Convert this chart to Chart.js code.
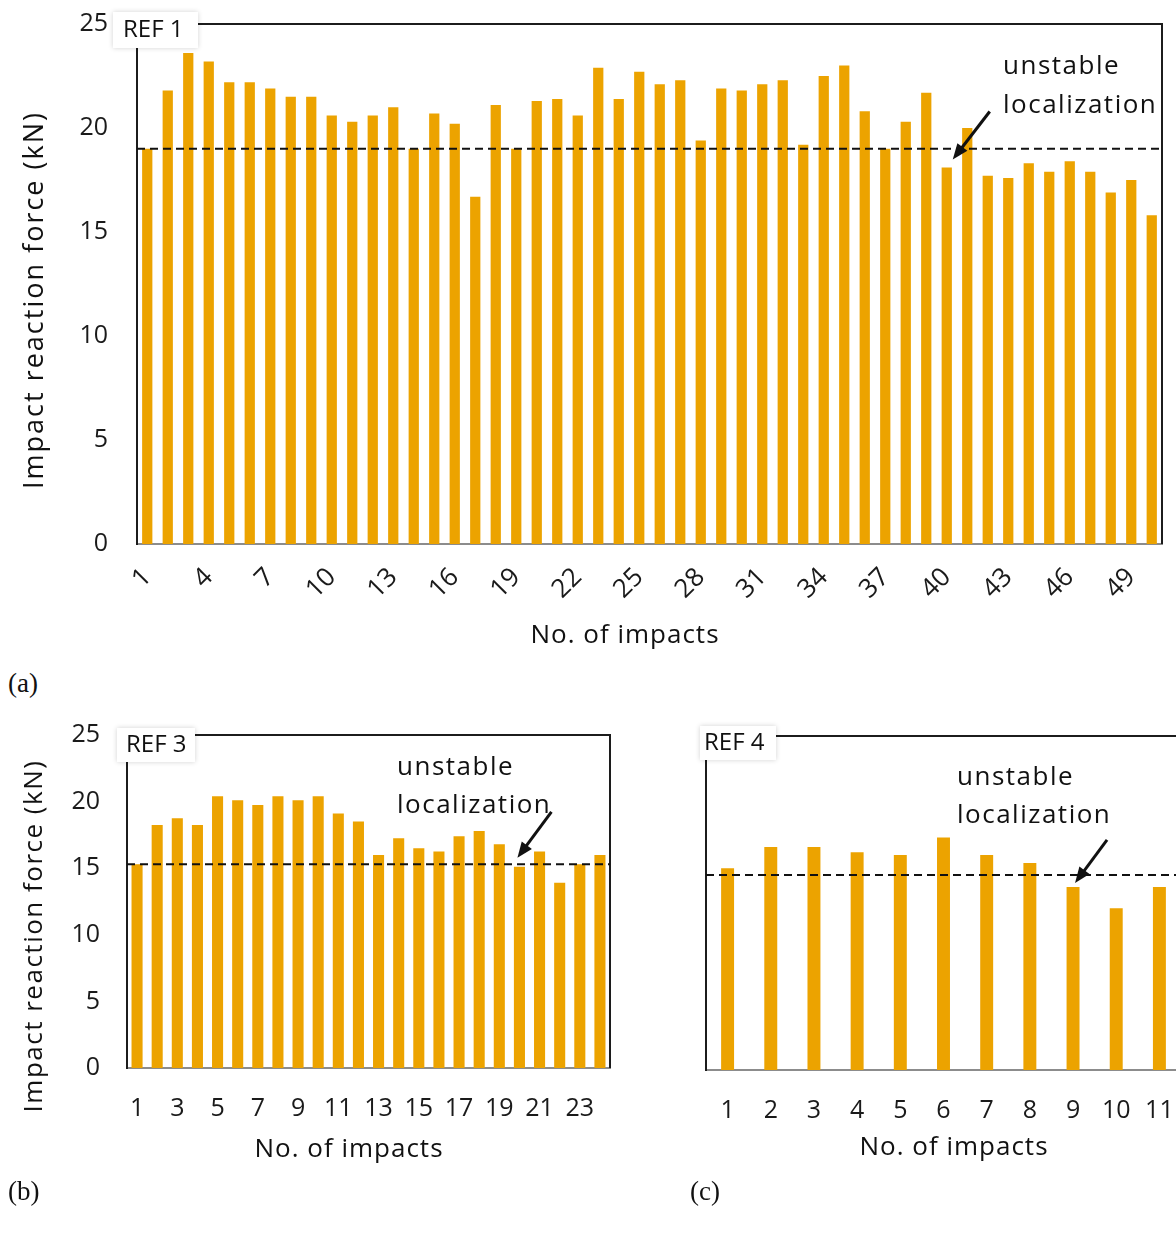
<!DOCTYPE html>
<html>
<head>
<meta charset="utf-8">
<script src="https://cdn.jsdelivr.net/npm/chart.js@4.4.1/dist/chart.umd.min.js"></script>
<style>
  html, body { margin: 0; padding: 0; background: #fff; overflow: hidden; }
  body { width: 1176px; height: 1236px; position: relative; }
  canvas { position: absolute; }
  .panel { position: absolute; font-family: 'Liberation Serif', serif; font-size: 27px; color: #111; }
</style>
</head>
<body>
<canvas id="chart-ref1" width="1176" height="660" style="left:0px;top:0px"></canvas>
<canvas id="chart-ref3" width="640" height="480" style="left:0px;top:700px"></canvas>
<canvas id="chart-ref4" width="600" height="480" style="left:600px;top:700px"></canvas>
<div class="panel" style="left:8px;top:668px">(a)</div>
<div class="panel" style="left:8px;top:1176px">(b)</div>
<div class="panel" style="left:690px;top:1176px">(c)</div>
<script>
const FONT = "'Open Sans', sans-serif";
const BAR_COLOR = '#ECA300';

// impact reaction force per impact (kN)
const ref1Force = [19.0, 21.8, 23.6, 23.2, 22.2, 22.2, 21.9, 21.5, 21.5, 20.6,
  20.3, 20.6, 21.0, 19.0, 20.7, 20.2, 16.7, 21.1, 19.0, 21.3,
  21.4, 20.6, 22.9, 21.4, 22.7, 22.1, 22.3, 19.4, 21.9, 21.8,
  22.1, 22.3, 19.2, 22.5, 23.0, 20.8, 19.0, 20.3, 21.7, 18.1,
  20.0, 17.7, 17.6, 18.3, 17.9, 18.4, 17.9, 16.9, 17.5, 15.8];
const ref3Force = [15.3, 18.25, 18.75, 18.25, 20.4, 20.1, 19.75, 20.4, 20.1, 20.4,
  19.1, 18.5, 16.0, 17.25, 16.5, 16.25, 17.4, 17.8, 16.8, 15.1,
  16.25, 13.9, 15.3, 16.0];
const ref4Force = [15.1, 16.7, 16.7, 16.3, 16.1, 17.4, 16.1, 15.5, 13.7, 12.1, 13.7];

// dashed reference levels
const ref1Limit = 19.0;
const ref3Limit = 15.3;
const ref4Limit = 14.6;

// impact where localization becomes unstable (1-based)
const ref1Unstable = 40;
const ref3Unstable = 20;
const ref4Unstable = 9;

const impactLabels = (n) => Array.from({ length: n }, (_, i) => String(i + 1));

const panelDecor = {
  id: 'panelDecor',
  afterDraw(chart, args, o) {
    const { ctx, chartArea: { left, top, right, bottom }, scales: { x, y } } = chart;
    ctx.save();

    // frame on top and right
    ctx.strokeStyle = '#1c1c1c';
    ctx.lineWidth = 2;
    ctx.beginPath();
    ctx.moveTo(left, top);
    ctx.lineTo(right, top);
    ctx.lineTo(right, bottom);
    ctx.stroke();

    // dashed level
    const ly = y.getPixelForValue(o.limit);
    ctx.setLineDash([8, 5]);
    ctx.strokeStyle = '#111';
    ctx.beginPath();
    ctx.moveTo(left, ly);
    ctx.lineTo(right, ly);
    ctx.stroke();
    ctx.setLineDash([]);

    // REF label box
    const b = o.refBox;
    ctx.shadowColor = 'rgba(0,0,0,0.18)';
    ctx.shadowBlur = 5;
    ctx.fillStyle = '#fff';
    ctx.fillRect(left + b.x, top + b.y, b.w, b.h);
    ctx.shadowColor = 'transparent';
    ctx.shadowBlur = 0;
    ctx.fillStyle = '#111';
    ctx.font = `24px ${FONT}`;
    ctx.textBaseline = 'middle';
    ctx.textAlign = 'left';
    ctx.fillText(o.refText, left + b.x + b.pad, top + b.y + b.h / 2);

    // note
    ctx.font = `26px ${FONT}`;
    ctx.letterSpacing = '1.5px';
    o.note.forEach((line, i) => {
      ctx.fillText(line, left + o.notePos.x, top + o.notePos.y + i * o.noteGap);
    });

    // arrow to the unstable impact
    const idx = o.arrowBar - 1;
    const tx = x.getPixelForValue(idx) + o.tip.dx;
    const ty = y.getPixelForValue(chart.data.datasets[0].data[idx]) + o.tip.dy;
    const sx = tx + o.tail.dx;
    const sy = ty + o.tail.dy;
    const ang = Math.atan2(ty - sy, tx - sx);
    const head = 17;
    ctx.strokeStyle = '#111';
    ctx.lineWidth = 3;
    ctx.beginPath();
    ctx.moveTo(sx, sy);
    ctx.lineTo(tx - head * 0.8 * Math.cos(ang), ty - head * 0.8 * Math.sin(ang));
    ctx.stroke();
    ctx.beginPath();
    ctx.moveTo(tx, ty);
    ctx.lineTo(tx - head * Math.cos(ang - 0.38), ty - head * Math.sin(ang - 0.38));
    ctx.lineTo(tx - head * Math.cos(ang + 0.38), ty - head * Math.sin(ang + 0.38));
    ctx.closePath();
    ctx.fill();

    // axis titles
    ctx.textAlign = 'center';
    const xt = o.xTitle;
    ctx.font = `${xt.size}px ${FONT}`;
    ctx.letterSpacing = `${xt.spacing}px`;
    ctx.fillText('No. of impacts', xt.x, xt.y);
    const yt = o.yTitle;
    if (yt) {
      ctx.font = `${yt.size}px ${FONT}`;
      ctx.letterSpacing = `${yt.spacing}px`;
      ctx.translate(yt.x, yt.y);
      ctx.rotate(-Math.PI / 2);
      ctx.fillText('Impact reaction force (kN)', 0, 0);
    }
    ctx.restore();
  },
};

function buildChart(id, values, o) {
  return new Chart(document.getElementById(id), {
    type: 'bar',
    data: {
      labels: impactLabels(values.length),
      datasets: [{
        data: values,
        backgroundColor: BAR_COLOR,
        barPercentage: o.barPct,
        categoryPercentage: 1,
      }],
    },
    options: {
      responsive: false,
      animation: false,
      layout: { padding: o.padding },
      plugins: {
        legend: { display: false },
        tooltip: { enabled: false },
        panelDecor: o.decor,
      },
      scales: {
        x: {
          grid: { display: false, drawTicks: false },
          border: { color: '#8c8c8c', width: 2 },
          ticks: {
            autoSkip: false,
            color: '#1a1a1a',
            font: { family: FONT, size: o.xFont },
            padding: o.xPad,
            minRotation: o.rot,
            maxRotation: o.rot,
            callback(v, i) { return i % o.every === 0 ? this.getLabelForValue(v) : ''; },
          },
          afterFit(scale) {
            scale.height = o.xHeight;
            scale.paddingLeft = 0;
            scale.paddingRight = 0;
          },
        },
        y: {
          min: 0,
          max: 25,
          grid: { display: false, drawTicks: false },
          border: { color: '#1c1c1c', width: 2 },
          ticks: {
            display: o.yTicks,
            stepSize: 5,
            color: '#1a1a1a',
            font: { family: FONT, size: 25 },
            padding: o.yPad,
          },
          afterFit(scale) {
            scale.width = o.yWidth;
            scale.paddingTop = 0;
            scale.paddingBottom = 0;
          },
        },
      },
    },
    plugins: [panelDecor],
  });
}

buildChart('chart-ref1', ref1Force, {
  barPct: 0.5,
  padding: { left: 0, right: 14, top: 24, bottom: 0 },
  yWidth: 137,
  xHeight: 116,
  yPad: 29,
  xPad: 18,
  xFont: 26,
  rot: 45,
  every: 3,
  yTicks: true,
  decor: {
    refText: 'REF 1',
    refBox: { x: -24, y: -12, w: 85, h: 36, pad: 10 },
    limit: ref1Limit,
    note: ['unstable', 'localization'],
    notePos: { x: 866, y: 43 },
    noteGap: 39,
    arrowBar: ref1Unstable,
    tip: { dx: 6, dy: -8 },
    tail: { dx: 37, dy: -48 },
    xTitle: { x: 625, y: 636, size: 26, spacing: 1 },
    yTitle: { x: 35, y: 300, size: 27, spacing: 2 },
  },
});

buildChart('chart-ref3', ref3Force, {
  barPct: 0.55,
  padding: { left: 0, right: 30, top: 35, bottom: 0 },
  yWidth: 127,
  xHeight: 112,
  yPad: 27,
  xPad: 26,
  xFont: 25,
  rot: 0,
  every: 2,
  yTicks: true,
  decor: {
    refText: 'REF 3',
    refBox: { x: -10, y: -7, w: 78, h: 34, pad: 9 },
    limit: ref3Limit,
    note: ['unstable', 'localization'],
    notePos: { x: 270, y: 33 },
    noteGap: 38,
    arrowBar: ref3Unstable,
    tip: { dx: -2, dy: -9 },
    tail: { dx: 34, dy: -46 },
    xTitle: { x: 349, y: 450, size: 26, spacing: 1 },
    yTitle: { x: 35, y: 236, size: 26, spacing: 1.5 },
  },
});

buildChart('chart-ref4', ref4Force, {
  barPct: 0.3,
  padding: { left: 0, right: 19, top: 36, bottom: 0 },
  yWidth: 106,
  xHeight: 110,
  yPad: 27,
  xPad: 26,
  xFont: 25,
  rot: 0,
  every: 1,
  yTicks: false,
  decor: {
    refText: 'REF 4',
    refBox: { x: -6, y: -10, w: 76, h: 34, pad: 4 },
    limit: ref4Limit,
    note: ['unstable', 'localization'],
    notePos: { x: 251, y: 42 },
    noteGap: 38,
    arrowBar: ref4Unstable,
    tip: { dx: 2, dy: -4 },
    tail: { dx: 32, dy: -43 },
    xTitle: { x: 354, y: 448, size: 26, spacing: 1 },
    yTitle: null,
  },
});
</script>
</body>
</html>
